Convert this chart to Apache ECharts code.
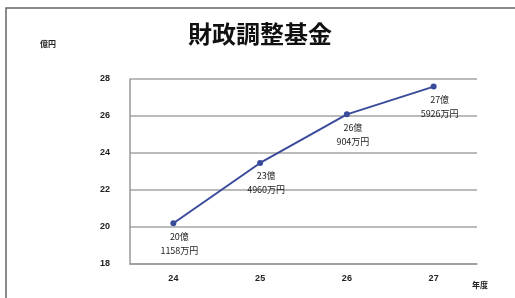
<!DOCTYPE html>
<html><head><meta charset="utf-8">
<script src="https://cdn.jsdelivr.net/npm/echarts@6/dist/echarts.min.js"></script>
<style>html,body{margin:0;padding:0;background:#fff}#c{width:515px;height:298px}</style>
</head><body><div id="c"></div>
<script>
var categories = ['24', '25', '26', '27'];
var values = [20.2, 23.46, 26.09, 27.59];
var labelTexts = ['20億\n1158万円', '23億\n4960万円', '26億\n904万円', '27億\n5926万円'];
var yTicks = [18, 20, 22, 24, 26, 28];

var chart = echarts.init(document.getElementById('c'));
chart.setOption({
  animation: false,
  backgroundColor: '#fff',
  title: {
    text: '財政調整基金', left: 255, top: 17, textAlign: 'center',
    textStyle: { fontFamily: 'Noto Sans CJK JP', fontSize: 24, fontWeight: 'bold', color: '#111' }
  },
  graphic: [
    { type: 'rect', shape: { x: 6, y: 8, width: 520, height: 300 }, style: { fill: 'none', stroke: '#666', lineWidth: 1.5 } },
    { type: 'text', left: 40, top: 40, style: { text: '億円', fontSize: 8, fontWeight: 'bold', fontFamily: 'Noto Sans CJK JP', fill: '#222' } },
    { type: 'text', left: 472, top: 281, style: { text: '年度', fontSize: 8, fontWeight: 'bold', fontFamily: 'Noto Sans CJK JP', fill: '#222' } }
  ],
  grid: { left: 130, right: 38, top: 79, bottom: 34 },
  xAxis: {
    type: 'category', data: categories, boundaryGap: true,
    axisLine: { lineStyle: { color: '#999', width: 1.5 } },
    axisTick: { show: false },
    axisLabel: { fontSize: 9, color: '#222', fontWeight: 'bold', margin: 10, fontFamily: 'Liberation Sans' }
  },
  yAxis: {
    type: 'value', min: yTicks[0], max: yTicks[yTicks.length - 1], interval: 2,
    axisLine: { show: true, lineStyle: { color: '#999', width: 1.5 } },
    axisTick: { show: false },
    axisLabel: { fontSize: 9, color: '#222', fontWeight: 'bold', margin: 20, fontFamily: 'Liberation Sans' },
    splitLine: { lineStyle: { color: '#bbb', width: 2 } }
  },
  series: [{
    type: 'line', data: values,
    lineStyle: { color: '#3b4b9b', width: 2 },
    itemStyle: { color: '#3b4b9b' },
    symbol: 'circle', symbolSize: 6,
    label: {
      show: true, position: 'bottom', distance: 3, offset: [6, 0],
      formatter: function (p) { return labelTexts[p.dataIndex]; },
      fontSize: 9, lineHeight: 14, color: '#222', fontFamily: 'Noto Sans CJK JP'
    }
  }]
});
</script></body></html>
